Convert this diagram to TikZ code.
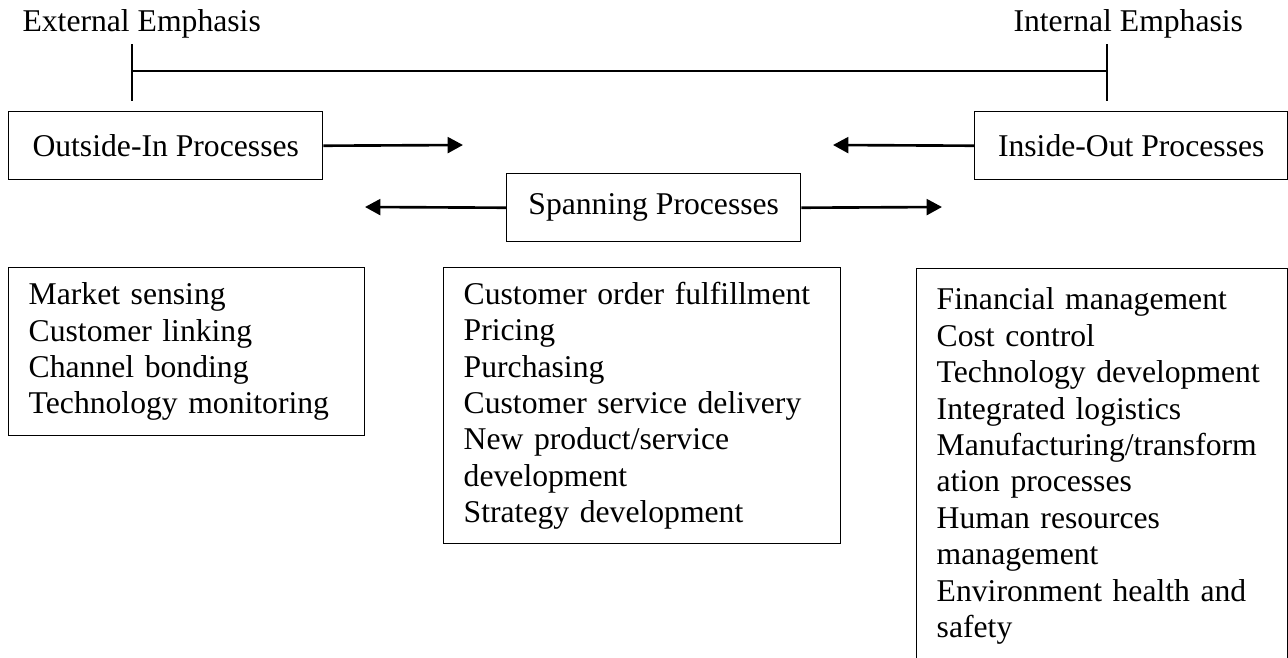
\documentclass[tikz,border=0pt]{standalone}
\usepackage{fontspec}
\setmainfont{Liberation Serif}
\usetikzlibrary{arrows.meta}
\newlength\pxu
\setlength\pxu{0.379pt}

\begin{document}
\begin{tikzpicture}[x=0.379pt, y=-0.379pt,
    >={Triangle[length=5.8pt, width=6pt]},
    font=\fontsize{12}{13.8}\selectfont,
    procbox/.style={draw, line width=0.55pt, anchor=north west,
                    minimum height=68\pxu, inner sep=0pt},
    listbox/.style={draw, line width=0.55pt, anchor=north west,
                    align=left, inner xsep=20\pxu, inner ysep=0pt},
    flow/.style={->, line width=1pt}]
  \useasboundingbox (0,0) rectangle (1288,658);

  % emphasis scale
  \node[anchor=base west, inner sep=0pt] (extlabel) at (22,31) {External Emphasis};
  \node[anchor=base west, inner sep=0pt] (intlabel) at (1013,31) {Internal Emphasis};
  \coordinate (exttop) at (132,44);
  \coordinate (extmid) at (132,71);
  \coordinate (extbot) at (132,101);
  \coordinate (inttop) at (1107,44);
  \coordinate (intmid) at (1107,71);
  \coordinate (intbot) at (1107,101);
  \draw[line width=0.55pt] (exttop) -- (extbot);
  \draw[line width=0.55pt] (inttop) -- (intbot);
  \draw[line width=0.55pt] (extmid) -- (intmid);

  % process groups
  \node[procbox, minimum width=314\pxu] (outin) at (8,111) {Outside-In Processes};
  \node[procbox, minimum width=313\pxu] (inout) at (974,111) {Inside-Out Processes};
  \node[procbox, minimum width=294\pxu] (span) at (506,173) {Spanning Processes};

  \coordinate (outend) at (463,145);
  \coordinate (inend) at (833,145);
  \coordinate (spanleft) at (365,207);
  \coordinate (spanright) at (942,207);
  \draw[flow] (outin.east) -- (outend);
  \draw[flow] (inout.west) -- (inend);
  \draw[flow] (span.west) -- (spanleft);
  \draw[flow] (span.east) -- (spanright);

  % lists of processes
  \node[listbox, text width=316\pxu, minimum height=168\pxu] (outlist) at (8,267)
    {Market sensing\\ Customer linking\\ Channel bonding\\ Technology monitoring};
  \node[listbox, text width=357\pxu, minimum height=276\pxu] (spanlist) at (443,267)
    {Customer order fulfillment\\ Pricing\\ Purchasing\\ Customer service delivery\\
     New product/service\\ development\\ Strategy development};
  \node[listbox, text width=331\pxu, minimum height=395\pxu] (inlist) at (916,268)
    {Financial management\\ Cost control\\ Technology development\\ Integrated logistics\\
     Manufacturing/transform\\ ation processes\\ Human resources\\ management\\
     Environment health and\\ safety};
\end{tikzpicture}
\end{document}
